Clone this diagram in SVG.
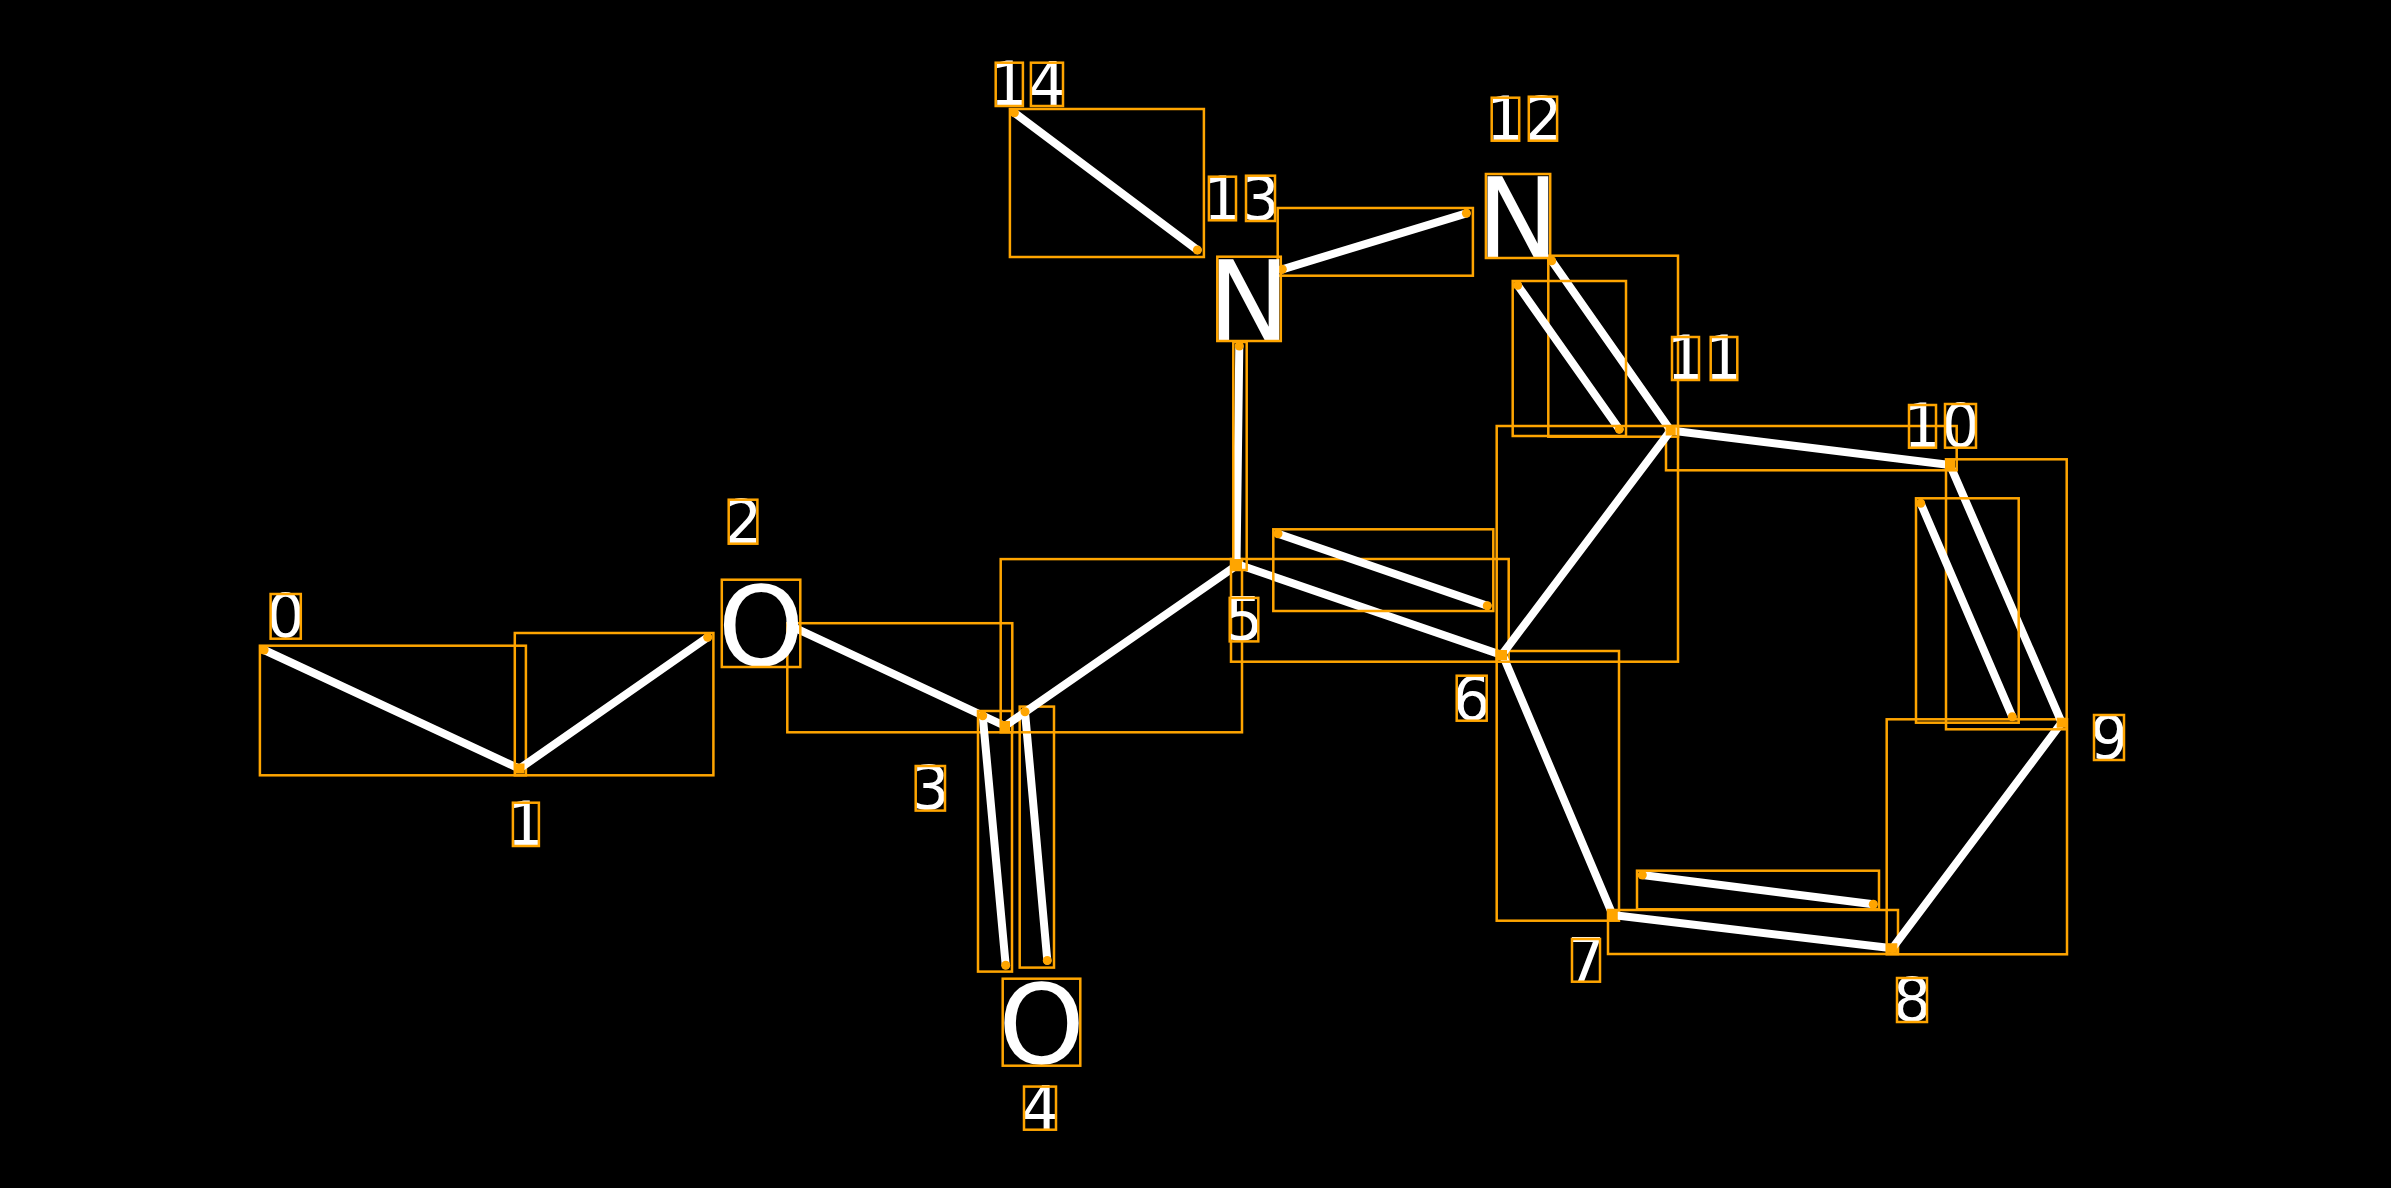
<svg xmlns="http://www.w3.org/2000/svg" width="2391" height="1188" viewBox="0 0 2391 1188">
<style>
.bond{stroke:#fff;stroke-width:8;stroke-linecap:round;fill:none}
.box{fill:none;stroke:#FFA500;stroke-width:2.5}
.dot{fill:#FFA500}
.cen{fill:#FFA500;stroke:#FFA500;stroke-width:1}
.txt{font-family:"DejaVu Sans","Liberation Sans",sans-serif;fill:#fff;text-anchor:middle}
.idx{font-size:60px}
.atm{font-size:110px}
</style>
<rect width="2391" height="1188" fill="#000"/>
<g id="connectors">
<line class="bond" x1="264.1" y1="650" x2="519.4" y2="768.7"/>
<rect class="box" x="259.9" y="645.7" width="266" height="129.6"/>
<line class="bond" x1="519.4" y1="768.7" x2="707.7" y2="637.3"/>
<rect class="box" x="514.8" y="633" width="198.6" height="142.3"/>
<line class="bond" x1="792.7" y1="626.8" x2="1005" y2="726"/>
<rect class="box" x="787.3" y="623.2" width="225" height="109.1"/>
<line class="bond" x1="982.7" y1="715.7" x2="1005.7" y2="965.2"/>
<rect class="box" x="978" y="711" width="34" height="260.6"/>
<line class="bond" x1="1025" y1="711.8" x2="1047.3" y2="960.5"/>
<rect class="box" x="1019.7" y="706.6" width="34.3" height="261"/>
<line class="bond" x1="1005" y1="726" x2="1238.3" y2="564.3"/>
<rect class="box" x="1000.7" y="559.1" width="241.3" height="173.2"/>
<line class="bond" x1="1236.7" y1="564" x2="1501.7" y2="655"/>
<rect class="box" x="1231" y="559" width="277.7" height="102.7"/>
<line class="bond" x1="1278" y1="533.7" x2="1487.3" y2="605.7"/>
<rect class="box" x="1273.3" y="529.3" width="220" height="81.7"/>
<line class="bond" x1="1502.7" y1="655" x2="1612.7" y2="915"/>
<rect class="box" x="1496.7" y="651" width="122.3" height="269.7"/>
<line class="bond" x1="1612.7" y1="915" x2="1892.3" y2="948.3"/>
<rect class="box" x="1608" y="910" width="290" height="44"/>
<line class="bond" x1="1642.3" y1="875" x2="1873.3" y2="904.3"/>
<rect class="box" x="1637" y="870.7" width="242" height="38.6"/>
<line class="bond" x1="1892.3" y1="948.3" x2="2061.7" y2="722.7"/>
<rect class="box" x="1886.7" y="719.3" width="180.3" height="235"/>
<line class="bond" x1="2061.7" y1="722.7" x2="1950" y2="465"/>
<rect class="box" x="1946" y="459.3" width="120.7" height="270"/>
<line class="bond" x1="1920.7" y1="503.3" x2="2012.3" y2="716.7"/>
<rect class="box" x="1916" y="498.3" width="102.7" height="224.4"/>
<line class="bond" x1="1950" y1="465" x2="1670.7" y2="430.5"/>
<rect class="box" x="1666" y="426" width="290.7" height="44.3"/>
<line class="bond" x1="1670.7" y1="430.5" x2="1551.7" y2="260.7"/>
<rect class="box" x="1548.3" y="255.7" width="129.7" height="181"/>
<line class="bond" x1="1619.3" y1="429.3" x2="1517.7" y2="285.3"/>
<rect class="box" x="1512.7" y="281" width="113.3" height="155"/>
<line class="bond" x1="1501.7" y1="655" x2="1670.7" y2="430.5"/>
<rect class="box" x="1496.7" y="426" width="181.3" height="235.7"/>
<line class="bond" x1="1466.4" y1="213.3" x2="1282.3" y2="269.3"/>
<rect class="box" x="1277.7" y="208" width="195.2" height="67.7"/>
<line class="bond" x1="1197.4" y1="250" x2="1014.4" y2="112.7"/>
<rect class="box" x="1009.9" y="109" width="194" height="148"/>
<line class="bond" x1="1239.3" y1="346" x2="1236.5" y2="565"/>
<rect class="box" x="1233.3" y="342" width="13.4" height="228"/>
<g class="dot">
<circle cx="264.1" cy="650" r="4.5"/><circle cx="707.7" cy="637.3" r="4.5"/><circle cx="792.7" cy="626.8" r="4.5"/>
<circle cx="982.7" cy="715.7" r="4.5"/><circle cx="1005.7" cy="965.2" r="4.5"/><circle cx="1025" cy="711.8" r="4.5"/><circle cx="1047.3" cy="960.5" r="4.5"/>
<circle cx="1278" cy="533.7" r="4.5"/><circle cx="1487.3" cy="605.7" r="4.5"/><circle cx="1642.3" cy="875" r="4.5"/><circle cx="1873.3" cy="904.3" r="4.5"/>
<circle cx="1920.7" cy="503.3" r="4.5"/><circle cx="2012.3" cy="716.7" r="4.5"/><circle cx="1619.3" cy="429.3" r="4.5"/><circle cx="1517.7" cy="285.3" r="4.5"/>
<circle cx="1551.7" cy="260.7" r="4.5"/><circle cx="1466.4" cy="213.3" r="4.5"/><circle cx="1282.3" cy="269.3" r="4.5"/><circle cx="1197.4" cy="250" r="4.5"/>
<circle cx="1014.4" cy="112.7" r="4.5"/><circle cx="1239.3" cy="346" r="4.5"/>
</g>
</g>
<g id="atom-0"><text class="txt idx" x="285.7" y="637">0</text><rect class="box" x="270.6" y="594" width="30.2" height="44.7"/></g>
<g id="atom-1"><rect class="cen" x="515" y="764" width="9" height="9"/><text class="txt idx" x="525.9" y="845">1</text><rect class="box" x="512.9" y="802.7" width="26" height="43.3"/></g>
<g id="atom-2"><text class="txt atm" x="761" y="664.5">O</text><rect class="box" x="721.8" y="579.7" width="78.5" height="87.3"/><text class="txt idx" x="743" y="542.7">2</text><rect class="box" x="728.7" y="499.7" width="28.7" height="44"/></g>
<g id="atom-3"><rect class="cen" x="1000.5" y="721.5" width="9" height="9"/><text class="txt idx" x="930.3" y="809">3</text><rect class="box" x="915.7" y="766" width="29.3" height="44.6"/></g>
<g id="atom-4"><text class="txt atm" x="1041.5" y="1063">O</text><rect class="box" x="1002.7" y="978.7" width="77.6" height="87"/><text class="txt idx" x="1040" y="1128.7">4</text><rect class="box" x="1024" y="1086.6" width="32" height="43.1"/></g>
<g id="atom-5"><rect class="cen" x="1232.5" y="559.5" width="9" height="9"/><text class="txt idx" x="1244" y="640">5</text><rect class="box" x="1229.7" y="597.9" width="28.6" height="43.5"/></g>
<g id="atom-6"><rect class="cen" x="1497.5" y="650.5" width="9" height="9"/><text class="txt idx" x="1471.7" y="719.5">6</text><rect class="box" x="1456.7" y="675.7" width="30" height="45"/></g>
<g id="atom-7"><rect class="cen" x="1608.2" y="910.5" width="9" height="9"/><text class="txt idx" x="1586" y="980.7">7</text><rect class="box" x="1572" y="939" width="28" height="42.7"/></g>
<g id="atom-8"><rect class="cen" x="1887.8" y="943.8" width="9" height="9"/><text class="txt idx" x="1912" y="1020.5">8</text><rect class="box" x="1897" y="978" width="30" height="44"/></g>
<g id="atom-9"><rect class="cen" x="2057.2" y="718.2" width="9" height="9"/><text class="txt idx" x="2109" y="758.5">9</text><rect class="box" x="2094" y="715" width="30" height="45"/></g>
<g id="atom-10"><rect class="cen" x="1945.5" y="460.5" width="9" height="9"/><text class="txt idx" x="1941.5" y="446.7">10</text><rect class="box" x="1909" y="405" width="27" height="42.7"/><rect class="box" x="1945" y="404" width="31" height="43.7"/></g>
<g id="atom-11"><rect class="cen" x="1666.2" y="426" width="9" height="9"/><text class="txt idx" x="1704.7" y="379">11</text><rect class="box" x="1672" y="337" width="27" height="43"/><rect class="box" x="1710.7" y="337" width="26.6" height="43"/></g>
<g id="atom-12"><text class="txt atm" x="1518" y="257">N</text><rect class="box" x="1485.9" y="174" width="64.3" height="84"/><text class="txt idx" x="1524.2" y="139.7">12</text><rect class="box" x="1491.7" y="97.7" width="27.5" height="43"/><rect class="box" x="1528.8" y="96.7" width="28.3" height="44"/></g>
<g id="atom-13"><text class="txt atm" x="1249" y="340">N</text><rect class="box" x="1217.3" y="256.7" width="63.5" height="84.3"/><text class="txt idx" x="1241.5" y="219.5">13</text><rect class="box" x="1208.9" y="176.7" width="27.1" height="43.6"/><rect class="box" x="1246" y="175.7" width="29" height="45.3"/></g>
<g id="atom-14"><text class="txt idx" x="1028" y="105">14</text><rect class="box" x="995.7" y="62.7" width="27.2" height="43.3"/><rect class="box" x="1030.9" y="62.7" width="32.1" height="43.3"/></g>
</svg>
